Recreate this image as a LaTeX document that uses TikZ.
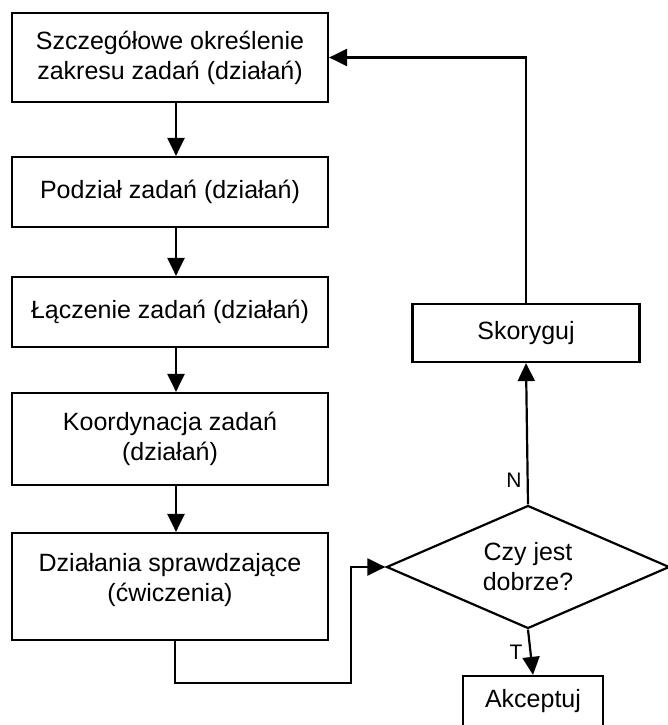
\documentclass[tikz,border=0pt]{standalone}
\usepackage{fontspec}
\setmainfont{Liberation Sans}
\usetikzlibrary{arrows.meta, shapes.geometric}

\begin{document}
\begin{tikzpicture}[x=1pt, y=-1pt,
  box/.style={draw, line width=2.2pt, inner sep=0pt, align=center,
    minimum width=316pt, font=\fontsize{25}{30}\selectfont},
  arr/.style={line width=2.2pt, -{Triangle[length=18pt,width=17pt]}},
  lab/.style={font=\fontsize{21}{24}\selectfont, inner sep=0pt}]

\useasboundingbox (0,0) rectangle (668,725);

% Steps
\node[box, minimum height=89pt] (s1) at (170,57.5) {Szczegółowe określenie\\zakresu zadań (działań)};
\node[box, minimum height=70pt] (s2) at (170,192) {Podział zadań (działań)};
\node[box, minimum height=70pt] (s3) at (170,312) {Łączenie zadań (działań)};
\node[box, minimum height=92pt] (s4) at (170,439) {Koordynacja zadań\\(działań)};
\node[box, minimum height=107pt, text depth=18pt] (s5) at (170,586.5) {Działania sprawdzające\\(ćwiczenia)};

% Check
\node[draw, line width=2.2pt, diamond, shape aspect=2.3, inner sep=0pt,
  minimum width=283pt, minimum height=123pt, align=center,
  font=\fontsize{25}{30}\selectfont] (dec) at (528,567) {Czy jest\\dobrze?};
\node[box, minimum width=227pt, minimum height=58pt] (sko) at (526,333) {Skoryguj};
\node[box, minimum width=140pt, minimum height=50pt] (akc) at (533,701) {Akceptuj};

% Arrows
\foreach \a/\b in {s1/s2,s2/s3,s3/s4,s4/s5}
  \draw[arr] ([xshift=6pt]\a.south) -- ([xshift=6pt]\b.north);

\coordinate (k) at (351,683);
\draw[arr] ([xshift=5pt]s5.south) |- (k) |- (dec.west);
\draw[arr] (dec.north) -- node[pos=0.17, left=5pt, lab] {N} (sko.south);
\draw[arr] (dec.south) -- node[pos=0.5, left=7pt, lab] {T} (akc.north);
\draw[arr] (sko.north) |- (s1.east);

\end{tikzpicture}
\end{document}
